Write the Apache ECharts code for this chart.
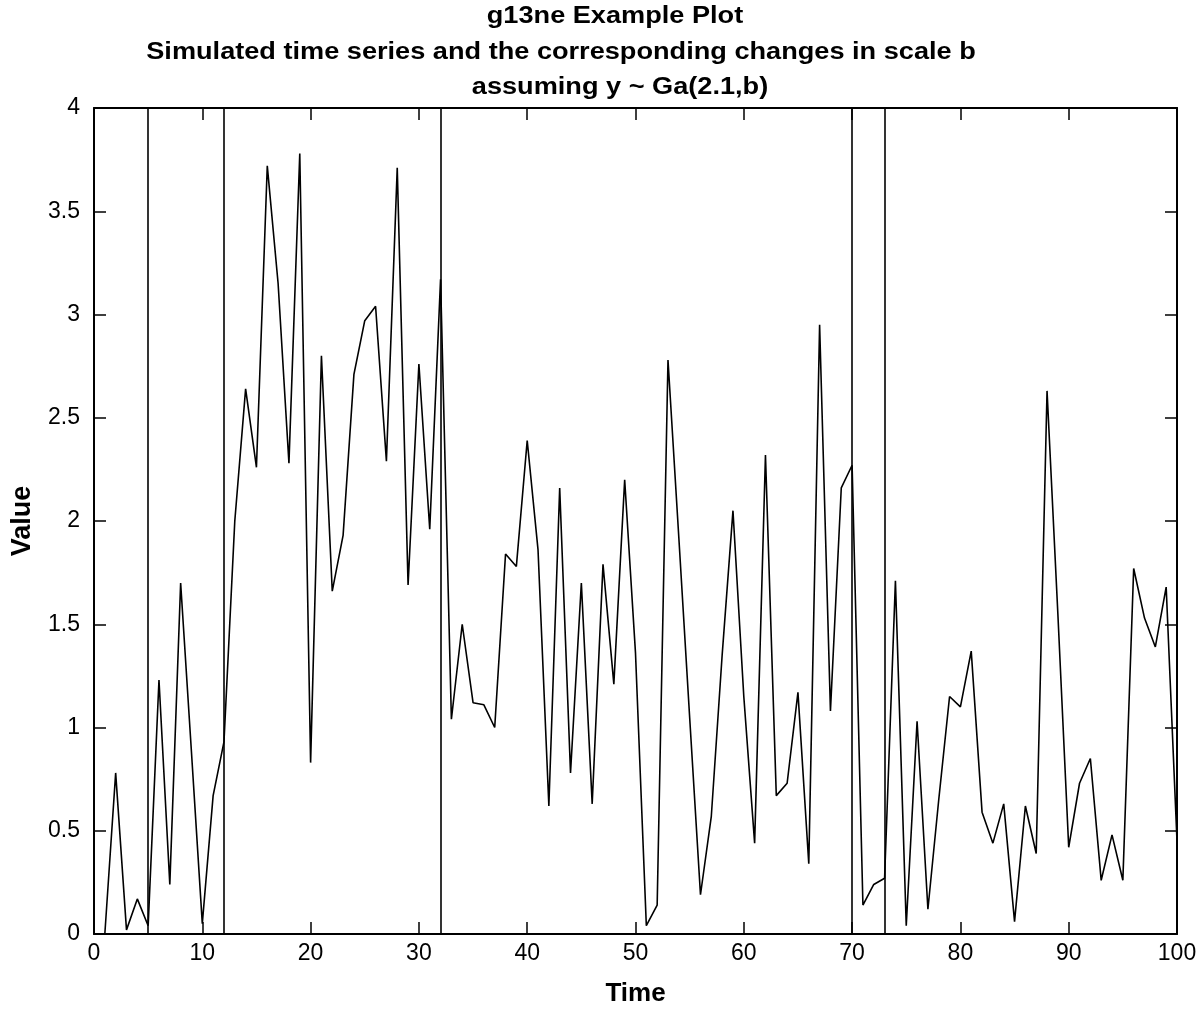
<!DOCTYPE html>
<html>
<head>
<meta charset="utf-8">
<script src="https://cdn.jsdelivr.net/npm/echarts@6/dist/echarts.min.js"></script>
<style>html,body{margin:0;padding:0;background:#fff;}#c{width:1202px;height:1012px;}</style>
</head>
<body>
<div id="c"></div>
<script>
var titleLines = ['g13ne Example Plot', 'Simulated time series and the corresponding changes in scale b', 'assuming y ~ Ga(2.1,b)'];
var xAxisName = 'Time';
var yAxisName = 'Value';
var timePoints = [];
for (var i = 1; i <= 100; i++) timePoints.push(i);
var values = [
  0.00, 0.78, 0.02, 0.17, 0.04, 1.23, 0.24, 1.70, 0.88, 0.05,
  0.67, 0.93, 2.00, 2.64, 2.26, 3.72, 3.15, 2.28, 3.78, 0.83,
  2.80, 1.66, 1.93, 2.71, 2.97, 3.04, 2.29, 3.71, 1.69, 2.76,
  1.96, 3.17, 1.04, 1.50, 1.12, 1.11, 1.00, 1.84, 1.78, 2.39,
  1.86, 0.62, 2.16, 0.78, 1.70, 0.63, 1.79, 1.21, 2.20, 1.36,
  0.04, 0.14, 2.78, 1.92, 1.05, 0.19, 0.57, 1.35, 2.05, 1.15,
  0.44, 2.32, 0.67, 0.73, 1.17, 0.34, 2.95, 1.08, 2.16, 2.27,
  0.14, 0.24, 0.27, 1.71, 0.04, 1.03, 0.12, 0.65, 1.15, 1.10,
  1.37, 0.59, 0.44, 0.63, 0.06, 0.62, 0.39, 2.63, 1.55, 0.42,
  0.73, 0.85, 0.26, 0.48, 0.26, 1.77, 1.53, 1.39, 1.68, 0.45
];
var changePoints = [5, 12, 32, 70, 73];

var seriesData = timePoints.map(function (t, k) { return [t, values[k]]; });

var chart = echarts.init(document.getElementById('c'));
var FONT = 'Liberation Sans, Arial, sans-serif';
var tickStyle = { show: true, inside: true, length: 12, lineStyle: { color: '#000', width: 1.5 } };
var lineStyleAxis = { show: true, onZero: false, lineStyle: { color: '#000', width: 2 } };

function titleText(txt, cx, cy) {
  return { type: 'text', x: cx, y: cy, scaleX: 1.18, originX: 0, originY: 0,
    style: { text: txt, font: 'bold 23px ' + FONT, fill: '#000', textAlign: 'center', textVerticalAlign: 'middle' } };
}

chart.setOption({
  backgroundColor: '#fff',
  animation: false,
  graphic: [
    titleText(titleLines[0], 615, 17),
    titleText(titleLines[1], 561, 53),
    titleText(titleLines[2], 620, 88)
  ],
  grid: { left: 94, right: 25, top: 108, bottom: 76, show: false },
  xAxis: [
    { type: 'value', position: 'bottom', min: 0, max: 100, interval: 10,
      name: xAxisName, nameLocation: 'middle', nameGap: 47,
      nameTextStyle: { fontFamily: FONT, fontWeight: 'bold', fontSize: 26, color: '#000' },
      axisLine: lineStyleAxis, axisTick: tickStyle, splitLine: { show: false },
      axisLabel: { fontFamily: FONT, fontSize: 23, color: '#000', margin: 8 } },
    { type: 'value', position: 'top', min: 0, max: 100, interval: 10,
      axisLine: lineStyleAxis, axisTick: tickStyle, splitLine: { show: false },
      axisLabel: { show: false } }
  ],
  yAxis: [
    { type: 'value', position: 'left', min: 0, max: 4, interval: 0.5,
      name: yAxisName, nameLocation: 'middle', nameGap: 58,
      nameTextStyle: { fontFamily: FONT, fontWeight: 'bold', fontSize: 27, color: '#000' },
      axisLine: lineStyleAxis, axisTick: tickStyle, splitLine: { show: false },
      axisLabel: { fontFamily: FONT, fontSize: 23, color: '#000', margin: 14 } },
    { type: 'value', position: 'right', min: 0, max: 4, interval: 0.5,
      axisLine: lineStyleAxis, axisTick: tickStyle, splitLine: { show: false },
      axisLabel: { show: false } }
  ],
  series: [{
    type: 'line',
    data: seriesData,
    showSymbol: false,
    lineStyle: { color: '#000', width: 1.6 },
    clip: true,
    markLine: {
      silent: true,
      symbol: ['none', 'none'],
      label: { show: false },
      lineStyle: { color: '#000', width: 1.6, type: 'solid' },
      data: changePoints.map(function (c) { return { xAxis: c }; })
    }
  }]
});
</script>
</body>
</html>
